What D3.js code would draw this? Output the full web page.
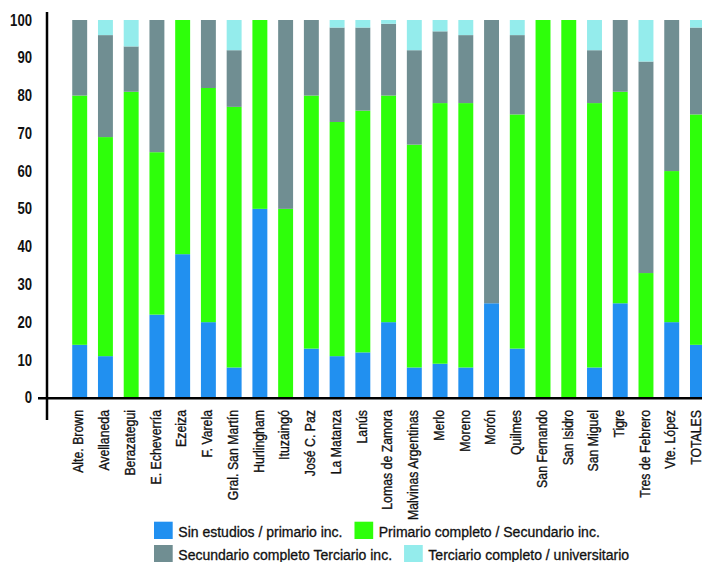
<!DOCTYPE html>
<html>
<head>
<meta charset="utf-8">
<script src="https://cdn.jsdelivr.net/npm/d3@7"></script>
<style>
  html, body { margin: 0; padding: 0; background: #fff; }
  svg { display: block; }
</style>
</head>
<body>
<svg id="chart" width="702" height="562"></svg>
<script>
const categories = ["Alte. Brown","Avellaneda","Berazategui","E. Echeverría","Ezeiza","F. Varela","Gral. San Martín","Hurlingham","Ituzaingó","José C. Paz","La Matanza","Lanús","Lomas de Zamora","Malvinas Argentinas","Merlo","Moreno","Morón","Quilmes","San Fernando","San Isidro","San Miguel","Tigre","Tres de Febrero","Vte. López","TOTALES"];
const sinEstudios   = [14,11,0,22,38,20,8,50,0,13,11,12,20,8,9,8,25,13,0,0,8,25,0,20,14];
const primarioComp  = [66,58,81,43,62,62,69,50,50,67,62,64,60,59,69,70,0,62,100,100,70,56,33,40,61];
const secundarioComp= [20,27,12,35,0,18,15,0,50,20,25,22,19,25,19,18,75,21,0,0,14,19,56,40,23];
const terciarioComp = [0,4,7,0,0,0,8,0,0,0,2,2,1,8,3,4,0,4,0,0,8,0,11,0,2];
const seriesNames = ["Sin estudios / primario inc.","Primario completo / Secundario inc.","Secundario completo Terciario inc.","Terciario completo / universitario"];
const seriesColors = ["#2190f0","#2eff0a","#708e92","#94ecec"];
const yTicks = [0,10,20,30,40,50,60,70,80,90,100];

const svg = d3.select("#chart");
const keys = ["s0","s1","s2","s3"];
const rows = categories.map((c,i)=>({cat:c, s0:sinEstudios[i], s1:primarioComp[i], s2:secundarioComp[i], s3:terciarioComp[i]}));
const stack = d3.stack().keys(keys)(rows);

const n = categories.length;
const step = 25.74;
const x0 = 79.7 - step/2;
const x = d3.scaleBand().domain(categories).range([x0, x0 + n*step]).paddingInner(0.42).paddingOuter(0.21);
const y = d3.scaleLinear().domain([0,100]).range([397.7, 20]);

const color = d3.scaleOrdinal().domain(keys).range(seriesColors);

svg.append("g").selectAll("g").data(stack).join("g")
  .attr("fill", d=>color(d.key))
  .selectAll("rect").data(d=>d).join("rect")
  .attr("x", d=>x(d.data.cat))
  .attr("width", x.bandwidth())
  .attr("y", d=>y(d[1]))
  .attr("height", d=>Math.max(0, y(d[0]) - y(d[1])));

const FONT = "'Liberation Sans',Arial,sans-serif";
const SQ = 0.82; // horizontal condensing to mimic a narrow face

// y axis tick labels
const yAxis = d3.axisLeft(y).tickValues(yTicks).tickSize(0).tickPadding(15).tickFormat(d3.format("d"));
const gy = svg.append("g").attr("transform","translate(47,0)").call(yAxis);
gy.select(".domain").remove();
gy.selectAll("text")
  .attr("font-family",FONT)
  .attr("font-weight","bold")
  .attr("font-size","16px")
  .attr("fill","#111")
  .attr("x", -15/SQ)
  .attr("transform",`scale(${SQ},1)`);

// x axis labels
const xAxis = d3.axisBottom(x).tickSize(0).tickPadding(0);
const gx = svg.append("g").attr("transform","translate(0,410)").call(xAxis);
gx.select(".domain").remove();
gx.selectAll("text")
  .attr("font-family",FONT)
  .attr("font-size","15px")
  .attr("fill","#111")
  .attr("stroke","#111").attr("stroke-width",0.35)
  .attr("text-anchor","end")
  .attr("transform",`rotate(-90) scale(${SQ},1)`)
  .attr("x",0).attr("y",0).attr("dy","0.25em");

// axis lines
svg.append("line").attr("x1",47).attr("x2",47).attr("y1",12).attr("y2",420)
  .attr("stroke","#000").attr("stroke-width",2.5);
svg.append("line").attr("x1",38).attr("x2",702).attr("y1",y(0)+0.6).attr("y2",y(0)+0.6)
  .attr("stroke","#000").attr("stroke-width",2.5);

// legend
const legend = svg.append("g");
const rowsY = [521.7, 545];
const layout = [[0,1],[2,3]];
layout.forEach((row, r)=>{
  let cx = 154;
  row.forEach(si=>{
    legend.append("rect").attr("x",cx).attr("y",rowsY[r]).attr("width",18.7).attr("height",17.3)
      .attr("fill",seriesColors[si]);
    const t = legend.append("text").attr("x",cx+24.3).attr("y",rowsY[r]+15)
      .attr("font-family",FONT)
      .attr("font-size","14px").attr("fill","#111")
      .attr("stroke","#111").attr("stroke-width",0.3)
      .text(seriesNames[si]);
    cx = cx + 24.3 + t.node().getComputedTextLength() + 12;
  });
});
</script>
</body>
</html>
